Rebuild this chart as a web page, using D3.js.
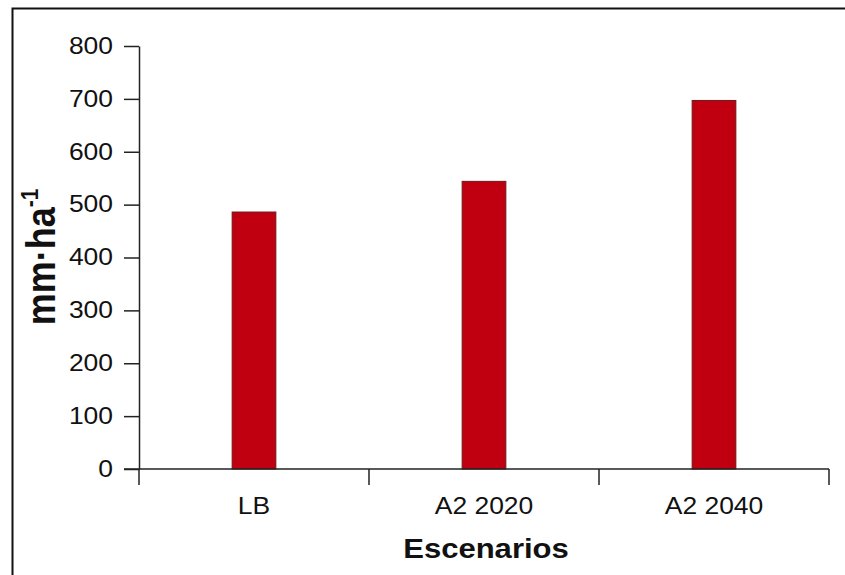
<!DOCTYPE html>
<html><head><meta charset="utf-8">
<script src="https://cdn.jsdelivr.net/npm/d3@7"></script>
<style>
body{margin:0;background:#fff;}
svg{display:block;font-family:"Liberation Sans",Arial,sans-serif;}
</style></head>
<body>
<svg id="c" width="845" height="575"></svg>
<script>
const categories = ["LB", "A2 2020", "A2 2040"];
const values = [486, 544, 697];
const yTicks = [0, 100, 200, 300, 400, 500, 600, 700, 800];
const yLabel = "mm·ha";
const yLabelSup = "-1";
const xLabel = "Escenarios";

const svg = d3.select("#c");
const m = {left: 139, right: 16, top: 46, bottom: 106};
const W = 845, H = 575;
const sx = 1.15;

// frame
svg.append("path").attr("d", `M12.5,${H} L12.5,8.5 L${W},8.5`).attr("fill","none").attr("stroke","#111").attr("stroke-width",2);

const x = d3.scaleBand().domain(categories).range([m.left, W - m.right]).padding(0);
const y = d3.scaleLinear().domain([0, 800]).range([H - m.bottom, m.top]);

const g = svg.append("g");
const bw = x.bandwidth() * 0.19;
g.selectAll("rect.bar").data(categories).join("rect").attr("class","bar")
  .attr("x", d => x(d) + x.bandwidth()/2 - bw/2)
  .attr("y", (d,i) => y(values[i]))
  .attr("width", bw)
  .attr("height", (d,i) => y(0) - y(values[i]))
  .attr("fill", "#c00010").attr("stroke", "#6a1a1a").attr("stroke-width", 1);

// y axis
const ya = g.append("g").attr("transform", `translate(${m.left},0)`)
  .call(d3.axisLeft(y).tickValues(yTicks).tickSize(15).tickPadding(10).tickSizeOuter(0));
ya.select(".domain").attr("stroke","#222").attr("stroke-width",1.5);
ya.selectAll(".tick line").attr("stroke","#222").attr("stroke-width",1.5);
ya.selectAll(".tick text").attr("font-size",23).attr("fill","#111")
  .attr("font-family","Liberation Sans, Arial, sans-serif")
  .attr("transform", `scale(${sx},1)`).attr("x", -26/sx);

// x axis
const xa = g.append("g").attr("transform", `translate(0,${y(0)})`)
  .call(d3.axisBottom(x).tickSize(0).tickPadding(0));
xa.select(".domain").remove();
xa.append("line").attr("x1", m.left - 15).attr("x2", W - m.right).attr("stroke","#222").attr("stroke-width",1.5);
const bounds = [m.left].concat(categories.map(c => x(c) + x.bandwidth()));
xa.selectAll("line.sep").data(bounds).join("line").attr("class","sep")
  .attr("x1", d => d).attr("x2", d => d).attr("y1", 0).attr("y2", 16)
  .attr("stroke","#222").attr("stroke-width",1.5);
xa.selectAll(".tick text").attr("font-size",23).attr("fill","#111")
  .attr("font-family","Liberation Sans, Arial, sans-serif")
  .attr("dy", null).attr("y", 45)
  .attr("transform", `scale(${sx},1)`);
xa.selectAll(".tick").attr("transform", d => `translate(${x(d) + x.bandwidth()/2},0)`);

// axis titles
svg.append("text").attr("x", 0).attr("y", 0)
  .attr("transform", `translate(${486},${558}) scale(${sx},1)`)
  .attr("text-anchor","middle").attr("font-size",27).attr("font-weight","bold").attr("fill","#111")
  .text(xLabel);

const yl = svg.append("text")
  .attr("transform", `translate(55,${257}) scale(${sx},1) rotate(-90)`)
  .attr("text-anchor","middle").attr("font-size",36).attr("font-weight","bold").attr("fill","#111");
yl.append("tspan").text(yLabel);
yl.append("tspan").attr("font-size",21).attr("dy",-15).text(yLabelSup);
</script>
</body></html>
